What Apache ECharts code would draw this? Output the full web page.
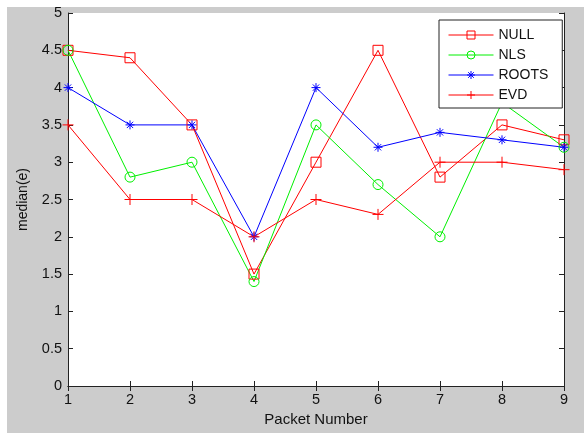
<!DOCTYPE html>
<html><head><meta charset="utf-8">
<script src="https://cdn.jsdelivr.net/npm/echarts@6/dist/echarts.min.js"></script>
<style>html,body{margin:0;padding:0;background:#fff}#c{width:584px;height:433px}</style>
</head><body><div id="c"></div>
<script>
const packets = [1,2,3,4,5,6,7,8,9];
const yTicks = [0,0.5,1,1.5,2,2.5,3,3.5,4,4.5,5];
const nullVals  = [4.5,4.4,3.5,1.5,3.0,4.5,2.8,3.5,3.3];
const nlsVals   = [4.5,2.8,3.0,1.4,3.5,2.7,2.0,3.8,3.2];
const rootsVals = [4.0,3.5,3.5,2.0,4.0,3.2,3.4,3.3,3.2];
const evdVals   = [3.5,2.5,2.5,2.0,2.5,2.3,3.0,3.0,2.9];

const pair = v => packets.map((x,i)=>[x,v[i]]);
const font = 'Liberation Sans, Arial, sans-serif';
const plusPath = 'path://M0,-5L0,5M-5,0L5,0';
const starPath = 'path://M0,-5L0,5M-5,0L5,0M-3.5,-3.5L3.5,3.5M-3.5,3.5L3.5,-3.5';

function mk(name, data, color, symbol, size){
  return {
    name, type:'line', data: pair(data), symbol, symbolSize:size,
    showAllSymbol:true,
    lineStyle:{color, width:1},
    itemStyle:{color:'rgba(0,0,0,0)', borderColor:color, borderWidth:1},
    emphasis:{disabled:true}, animation:false, z:3
  };
}

const axisCommon = {
  axisLine:{show:true, lineStyle:{color:'#222', width:1}},
  axisTick:{show:true, inside:true, length:5, lineStyle:{color:'#222'}},
  splitLine:{show:false}
};

const chart = echarts.init(document.getElementById('c'));
chart.setOption({
  backgroundColor:'#ffffff',
  animation:false,
  graphic:[{type:'rect', shape:{x:7,y:7,width:577,height:426}, style:{fill:'#cccccc'}, z:-10, silent:true}],
  grid:{left:68, top:13, right:20, bottom:47, show:true, backgroundColor:'#ffffff', borderWidth:0},
  legend:{
    orient:'vertical', left:439, top:20,
    padding:[8,14,6,9], itemGap:6, itemWidth:45, itemHeight:10,
    backgroundColor:'#ffffff', borderColor:'#222', borderWidth:1,
    lineStyle:{width:1},
    itemStyle:{borderWidth:1},
    textStyle:{fontFamily:font, fontSize:14, color:'#111'},
    data:['NULL','NLS','ROOTS','EVD']
  },
  xAxis:[
    Object.assign({type:'value', min:1, max:9, interval:1, position:'bottom',
      name:'Packet Number', nameLocation:'middle', nameGap:22,
      nameTextStyle:{fontFamily:font, fontSize:15, color:'#111'},
      axisLabel:{fontFamily:font, fontSize:14.5, color:'#111', margin:6}}, axisCommon),
    Object.assign({type:'value', min:1, max:9, interval:1, position:'top',
      axisLabel:{show:false}}, axisCommon)
  ],
  yAxis:[
    Object.assign({type:'value', min:0, max:5, interval:0.5, position:'left',
      name:'median(e)', nameLocation:'middle', nameGap:38,
      nameTextStyle:{fontFamily:font, fontSize:14, color:'#111'},
      axisLabel:{fontFamily:font, fontSize:14.5, color:'#111', margin:6}}, axisCommon),
    Object.assign({type:'value', min:0, max:5, interval:0.5, position:'right',
      axisLabel:{show:false}}, axisCommon)
  ],
  series:[
    mk('NULL', nullVals, '#ff0000', 'rect', 10),
    mk('NLS', nlsVals, '#00f000', 'circle', 10),
    mk('ROOTS', rootsVals, '#0000ff', starPath, 9),
    mk('EVD', evdVals, '#ff0000', plusPath, 11)
  ]
});
</script></body></html>
